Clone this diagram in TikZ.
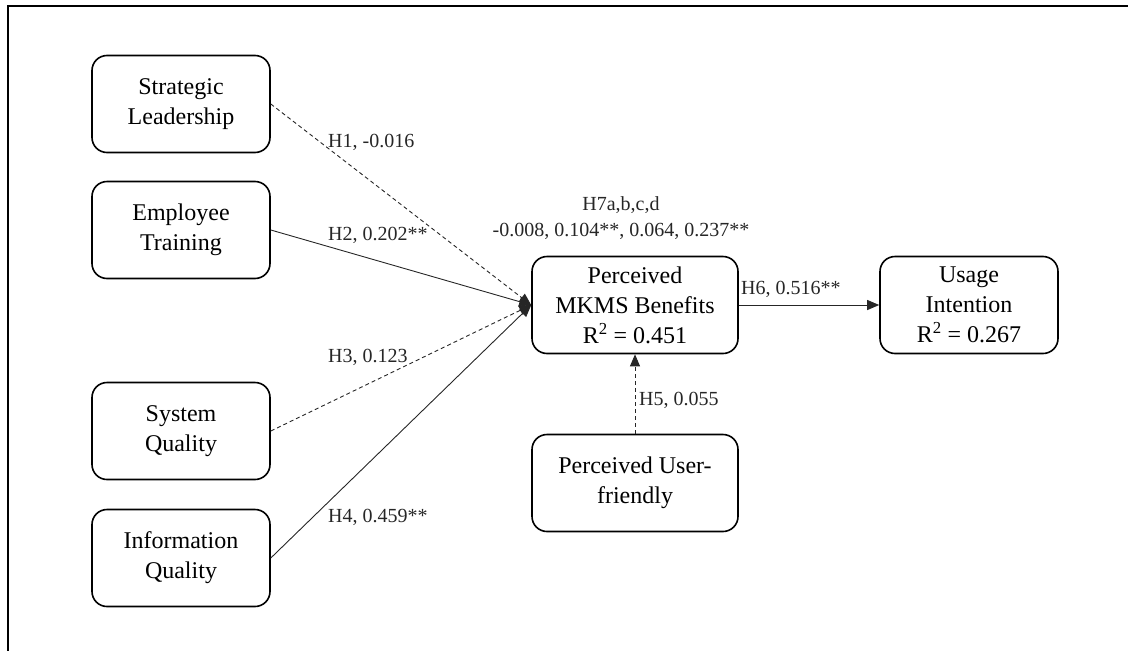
\documentclass[tikz,border=0pt]{standalone}
\usepackage{fontspec}
\setmainfont{Liberation Serif}
\usepackage{tikz}
\usetikzlibrary{arrows, arrows.meta}
\usetikzlibrary{positioning}

\tikzset{
	construct/.style={rectangle, rounded corners=15pt, draw=black, line width=1.6pt, align=center,
		minimum width=178pt, minimum height=97pt, font=\fontsize{24}{30}\selectfont},
	path/.style={draw=black!85, line width=0.9pt, -{Triangle[length=12pt,width=10pt]}},
	weak/.style={path, dash pattern=on 4pt off 3pt},
	coef/.style={anchor=west, inner sep=0pt, text=black!85, font=\fontsize{20}{26}\selectfont}
}

\begin{document}
\begin{tikzpicture}[x=1pt, y=-1pt]
	\useasboundingbox (0,0) rectangle (1128,651);
	\newcommand\wideW{206}
	% frame
	\draw[line width=2pt] (8,651) -- (8,6) -- (1128,6);
	% constructs
	\node[construct] (lead) at (181,104) {Strategic\\Leadership};
	\node[construct] (train) at (181,230) {Employee\\Training};
	\node[construct] (sysq) at (181,431) {System\\Quality};
	\node[construct] (infq) at (181,558) {Information\\Quality};
	\node[construct, minimum width=\wideW pt] (benef) at (635,305) {Perceived\\MKMS Benefits\\R\textsuperscript{2} = 0.451};
	\node[construct] (usage) at (969,305) {Usage\\Intention\\R\textsuperscript{2} = 0.267};
	\node[construct, minimum width=\wideW pt] (friend) at (635,483) {Perceived User-\\friendly};
	% paths
	\draw[weak] (lead.east) -- (benef.west);
	\draw[path] (train.east) -- (benef.west);
	\draw[weak] (sysq.east) -- (benef.west);
	\draw[path] (infq.east) -- (benef.west);
	\draw[path] (benef.east) -- (usage.west);
	\draw[weak] (friend.north) -- (benef.south);
	% coefficients
	\node[coef] (h1) at (328,142) {H1, -0.016};
	\node[coef] (h2) at (328,235) {H2, 0.202**};
	\node[coef] (h3) at (328,357) {H3, 0.123};
	\node[coef] (h4) at (328,517) {H4, 0.459**};
	\node[coef] (h5) at (639,400) {H5, 0.055};
	\node[coef] (h6) at (741,289) {H6, 0.516**};
	\node[coef, anchor=center, align=center] (h7) at (621,218) {H7a,b,c,d\\-0.008, 0.104**, 0.064, 0.237**};
\end{tikzpicture}
\end{document}
